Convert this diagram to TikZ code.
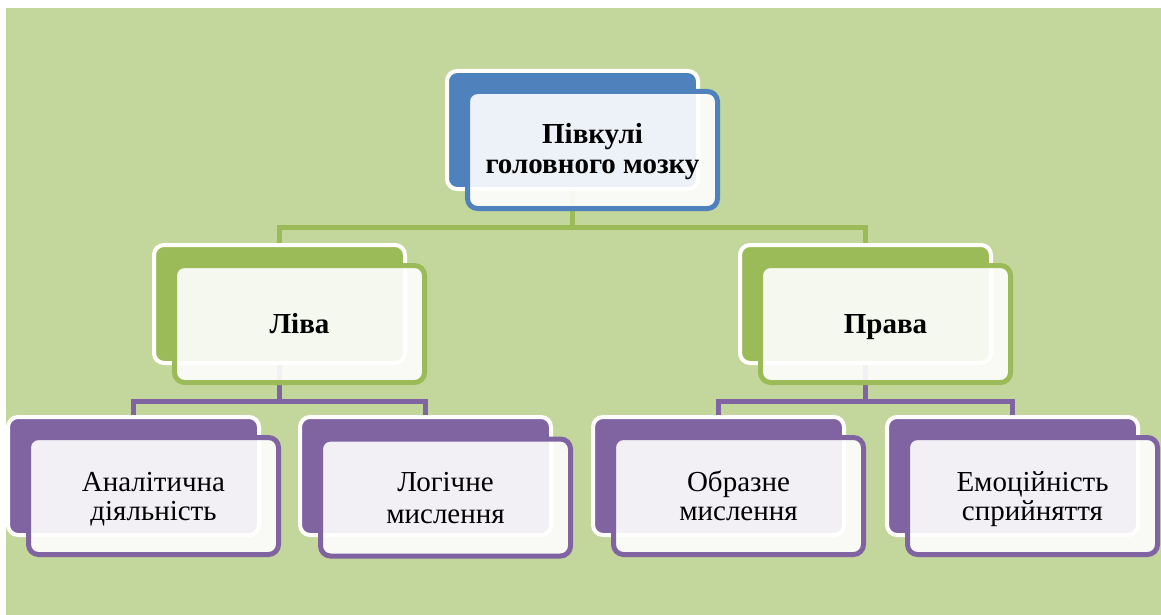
\documentclass[tikz,border=0pt]{standalone}
\usepackage{fontspec}
\setmainfont{Liberation Serif}
\definecolor{pagegreen}{HTML}{C3D69B}
\definecolor{accblue}{HTML}{4F81BD}
\definecolor{accgreen}{HTML}{9BBB59}
\definecolor{accpurple}{HTML}{8064A2}
\pgfdeclarelayer{pagebg}
\pgfdeclarelayer{links}
\pgfsetlayers{pagebg,links,main}
% invisible rules that fix the height of the first line and the depth of the last
\newcommand\headtop{\rule{0pt}{25.7pt}}
\newcommand\leaftop{\rule{0pt}{27.7pt}}
\newcommand\lastdepth{\rule[-8.7pt]{0pt}{8.7pt}}
\newcommand\oneline{\rule[-8.7pt]{0pt}{35.4pt}}
\tikzset{
  backbox/.style={rectangle, rounded corners=10pt, draw=white, line width=4pt,
    fill=#1, minimum width=251pt, minimum height=118pt, inner sep=0pt},
  frontbox/.style={rectangle, rounded corners=10pt, draw=#1, line width=5pt,
    fill=white, fill opacity=0.9, text opacity=1, minimum width=250pt,
    minimum height=117pt, inner sep=0pt, align=center, text=black},
  headtext/.style={font=\fontsize{29}{30}\selectfont\bfseries},
  leaftext/.style={font=\fontsize{29}{29}\selectfont},
  link/.style={draw=#1, line width=5pt},
}
\begin{document}
\begin{tikzpicture}[x=1pt, y=-1pt]
\useasboundingbox (0,0) rectangle (1161,615);
\begin{pgfonlayer}{pagebg}
  \fill[white] (0,0) rectangle (1161,615);
  \fill[pagegreen] (6,8) rectangle (1161,615);
\end{pgfonlayer}

% root
\node[backbox=accblue] (root-b) at (572.5,130) {};
\node[frontbox=accblue, headtext] (root) at (592.5,150) {\headtop Півкулі\\головного мозку\lastdepth};

% second level
\node[backbox=accgreen] (left-b) at (279.5,304) {};
\node[frontbox=accgreen, headtext] (left) at (299.5,324) {\oneline Ліва};
\node[backbox=accgreen] (right-b) at (865.5,304) {};
\node[frontbox=accgreen, headtext] (right) at (885.5,324) {\oneline Права};

% leaves
\node[backbox=accpurple] (la-b) at (133.5,476) {};
\node[frontbox=accpurple, leaftext] (la) at (153.5,496) {\leaftop Аналітична\\діяльність\lastdepth};
\node[backbox=accpurple] (lb-b) at (425.5,476) {};
\node[frontbox=accpurple, leaftext] (lb) at (445.5,497.5) {\leaftop Логічне\\[3pt]мислення\lastdepth};
\node[backbox=accpurple] (ra-b) at (718.5,476) {};
\node[frontbox=accpurple, leaftext] (ra) at (738.5,496) {\leaftop Образне\\мислення\lastdepth};
\node[backbox=accpurple] (rb-b) at (1012.5,476) {};
\node[frontbox=accpurple, leaftext] (rb) at (1032.5,496) {\leaftop Емоційність\\сприйняття\lastdepth};

% connectors
\coordinate (bus-root) at (572.5,227);
\coordinate (bus-left) at (279.5,401);
\coordinate (bus-right) at (865.5,401);
\begin{pgfonlayer}{links}
  \draw[link=accgreen] (root-b.south) -- (bus-root);
  \draw[link=accgreen] (bus-root) -| (left-b.north);
  \draw[link=accgreen] (bus-root) -| (right-b.north);
  \draw[link=accpurple] (left-b.south) -- (bus-left);
  \draw[link=accpurple] (bus-left) -| (la-b.north);
  \draw[link=accpurple] (bus-left) -| (lb-b.north);
  \draw[link=accpurple] (right-b.south) -- (bus-right);
  \draw[link=accpurple] (bus-right) -| (ra-b.north);
  \draw[link=accpurple] (bus-right) -| (rb-b.north);
\end{pgfonlayer}
\end{tikzpicture}
\end{document}
